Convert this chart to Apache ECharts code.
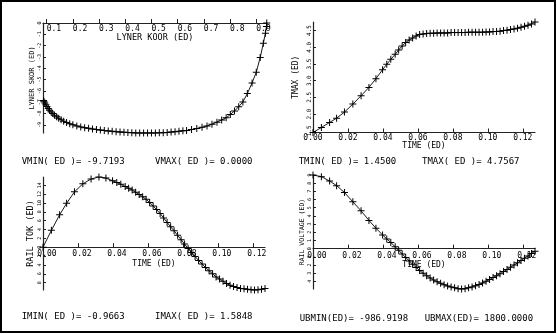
<!DOCTYPE html>
<html><head><meta charset="utf-8">
<script src="https://cdn.jsdelivr.net/npm/echarts@6/dist/echarts.min.js"></script>
<style>html,body{margin:0;padding:0;background:#fff}#c{width:557px;height:334px}</style>
</head><body><div id="c"></div>
<script>
// ---- Panel 1: LYNER KOOR vs LYNER SKOR ----
const koor = [0.940,0.939,0.935,0.927,0.915,0.900,0.884,0.866,0.849,0.833,0.817,0.801,0.785,0.768,0.750,0.731,0.712,0.693,0.673,0.653,0.634,
  0.620,0.605,0.590,0.575,0.560,0.545,0.530,0.515,0.500,0.485,0.470,0.455,0.440,0.425,0.410,0.395,0.380,0.365,0.350,0.335,0.320,0.305,0.290,0.275,0.260,0.245,0.230,0.215,0.200,0.188,0.176,0.165,0.155,0.146,0.138,0.130,0.123,0.117,0.111,0.106,0.101,0.097,0.093,0.090,0.088];
const skor = [0,-0.3,-0.9,-1.8,-3.05,-4.35,-5.3,-6.23,-6.97,-7.4,-7.77,-8.08,-8.38,-8.56,-8.76,-8.94,-9.1,-9.22,-9.33,-9.42,-9.5,
  -9.53,-9.57,-9.61,-9.64,-9.67,-9.69,-9.70,-9.71,-9.7193,-9.7193,-9.72,-9.72,-9.71,-9.69,-9.67,-9.65,-9.63,-9.60,-9.57,-9.54,-9.50,-9.46,-9.42,-9.37,-9.31,-9.25,-9.18,-9.10,-9.00,-8.91,-8.80,-8.68,-8.55,-8.42,-8.29,-8.15,-8.00,-7.86,-7.70,-7.55,-7.38,-7.22,-7.07,-6.95,-6.85];

// ---- Shared time steps for panels 2-4 ----
const time = [0,0.0048,0.0095,0.0135,0.018,0.0228,0.0275,0.032,0.036,0.0398,0.0422,0.0445,
  0.047,0.049,0.051,0.053,0.055,0.057,0.059,0.061,0.063,0.065,0.067,0.069,0.071,0.073,0.075,0.077,0.079,0.081,0.083,0.085,0.087,0.089,0.091,0.093,0.095,0.097,0.099,0.101,0.103,0.105,0.107,0.109,0.111,0.113,0.115,0.117,0.119,0.121,0.123,0.125,0.127];
const tmax = [1.45,1.60,1.75,1.88,2.06,2.30,2.55,2.80,3.06,3.33,3.49,3.64,
  3.79,3.92,4.04,4.14,4.22,4.28,4.34,4.38,4.40,4.41,4.42,4.42,4.43,4.43,4.43,4.43,4.44,4.44,4.44,4.44,4.44,4.45,4.45,4.45,4.45,4.45,4.46,4.46,4.47,4.47,4.48,4.50,4.51,4.53,4.55,4.57,4.60,4.63,4.66,4.70,4.7567];
const railTok = [0,0.38,0.73,0.99,1.25,1.43,1.54,1.5848,1.56,1.50,1.46,1.42,
  1.37,1.33,1.29,1.24,1.19,1.14,1.08,1.01,0.93,0.85,0.76,0.66,0.56,0.46,0.37,0.27,0.17,0.07,-0.03,-0.12,-0.21,-0.30,-0.38,-0.46,-0.53,-0.60,-0.67,-0.72,-0.77,-0.82,-0.86,-0.89,-0.91,-0.93,-0.94,-0.95,-0.96,-0.9663,-0.96,-0.95,-0.93];
const railVoltage = [1800,1760,1653,1540,1373,1144,924,690,499,335,238,150,
  45,-40,-130,-215,-300,-382,-460,-534,-600,-660,-716,-766,-810,-848,-882,-914,-938,-955,-978,-986.92,-978,-955,-935,-906,-875,-840,-800,-755,-708,-660,-612,-562,-510,-456,-402,-348,-290,-236,-180,-120,-62];

// ---- Tick labels ----
const koorTicks = [0.1,0.2,0.3,0.4,0.5,0.6,0.7,0.8,0.9];
const skorTicks = [0,-1,-2,-3,-4,-5,-6,-7,-8,-9];
const timeTicks = [0,0.02,0.04,0.06,0.08,0.10,0.12];
const tmaxTicks = [1.5,2.0,2.5,3.0,3.5,4.0,4.5];
const tokTicks = [-0.8,-0.6,-0.4,-0.2,0,0.2,0.4,0.6,0.8,1.0,1.2,1.4];
const voltTicks = [-800,-600,-400,-200,0,200,400,600,800,1000,1200,1400,1600,1800];

// ---- Texts ----
const axisNames = ['LYNER KOOR (ED)','LYNER SKOR (ED)','TIME (ED)','TMAX (ED)','TIME (ED)','RAIL TOK (ED)','TIME (ED)','RAIL VOLTAGE (ED)'];
const footers = ['VMIN( ED )= -9.7193','VMAX( ED )= 0.0000','TMIN( ED )= 1.4500','TMAX( ED )= 4.7567',
  'IMIN( ED )= -0.9663','IMAX( ED )= 1.5848','UBMIN(ED)= -986.9198','UBMAX(ED)= 1800.0000'];

const FONT = 'DejaVu Sans Mono';
const pair = (xs, ys) => xs.map((x, i) => [x, ys[i]]);
const plus = 'path://M-0.5,-3.5L0.5,-3.5L0.5,-0.5L3.5,-0.5L3.5,0.5L0.5,0.5L0.5,3.5L-0.5,3.5L-0.5,0.5L-3.5,0.5L-3.5,-0.5L-0.5,-0.5Z';

function xAx(idx, o) {
  return Object.assign({
    type: 'value', gridIndex: idx, min: o.min, max: o.max,
    axisLine: {show: true, onZero: false, lineStyle: {color: '#222', width: 1.2}},
    axisTick: {show: true, inside: o.tickInside !== false, length: 4, customValues: o.ticks, lineStyle: {color: '#222'}},
    axisLabel: {show: true, customValues: o.ticks, inside: !!o.labelInside, margin: o.margin, align: o.align || 'center',
      padding: o.pad || 0, fontFamily: FONT, fontSize: 8, color: '#000', formatter: o.fmt, showMinLabel: true, showMaxLabel: true},
    splitLine: {show: false},
    name: o.name || '', nameLocation: 'middle', nameGap: o.nameGap || 0,
    nameTextStyle: {fontFamily: FONT, fontSize: o.nameSize || 8, color: '#000', verticalAlign: 'middle'}
  }, o.extra || {});
}
function yAx(idx, o) {
  return {
    type: 'value', gridIndex: idx, min: o.min, max: o.max,
    axisLine: {show: true, onZero: false, lineStyle: {color: '#222', width: 1.2}},
    axisTick: {show: true, inside: true, length: 3, customValues: o.ticks, lineStyle: {color: '#222'}},
    axisLabel: {show: true, customValues: o.ticks, rotate: 90, margin: o.margin || 1, fontFamily: FONT, fontSize: o.labSize || 5,
      color: '#000', formatter: o.fmt, showMinLabel: true, showMaxLabel: true},
    splitLine: {show: false},
    name: o.name, nameLocation: 'middle', nameGap: o.nameGap, nameRotate: 90,
    nameTextStyle: {fontFamily: FONT, fontSize: o.nameSize || 8, color: '#000', verticalAlign: 'middle'}
  };
}
function ser(idx, data) {
  return {
    type: 'line', xAxisIndex: idx, yAxisIndex: idx, data: data,
    symbol: plus, symbolSize: 7, showAllSymbol: true,
    itemStyle: {color: '#000'}, lineStyle: {color: '#000', width: 0.9},
    animation: false, silent: true
  };
}

const chart = echarts.init(document.getElementById('c'), null, {renderer: 'canvas'});
const footerPos = [[21.7,161.7],[155,161.7],[298.7,161.7],[422,161.7],[21.7,316.7],[155,316.7],[299.7,318.3],[424.7,318.3]];

chart.setOption({
  backgroundColor: '#fff',
  animation: false,
  grid: [
    {left: 43, top: 23, width: 224, height: 110},
    {left: 313, top: 22, width: 222, height: 110.5},
    {left: 43, top: 177, width: 222, height: 113},
    {left: 313, top: 175, width: 222, height: 114}
  ],
  xAxis: [
    xAx(0, {min: 0.086, max: 0.941, ticks: koorTicks, tickInside: false, labelInside: true, margin: 2, align: 'left',
      fmt: v => v.toFixed(1), extra: {position: 'top'}}),
    xAx(1, {min: 0, max: 0.127, ticks: timeTicks, margin: 1, fmt: v => v.toFixed(2), name: axisNames[2], nameGap: 13}),
    xAx(2, {min: 0, max: 0.127, ticks: timeTicks, margin: 3, pad: [0,0,0,8], fmt: v => v.toFixed(2), name: axisNames[4], nameGap: 17,
      extra: {position: 'bottom', offset: -42.8}}),
    xAx(3, {min: 0, max: 0.127, ticks: timeTicks, margin: 3, pad: [0,0,0,8], fmt: v => v.toFixed(2), name: axisNames[6], nameGap: 16,
      extra: {position: 'bottom', offset: -40.4}})
  ],
  yAxis: [
    yAx(0, {min: -9.7193, max: 0, ticks: skorTicks, fmt: v => String(v), name: axisNames[1], nameGap: 9, nameSize: 7}),
    yAx(1, {min: 1.45, max: 4.7567, ticks: tmaxTicks, fmt: v => v.toFixed(1), labSize: 6, name: axisNames[3], nameGap: 17, nameSize: 8}),
    yAx(2, {min: -0.9663, max: 1.5848, ticks: tokTicks, fmt: v => String(Math.round(Math.abs(v)*10)), name: axisNames[5], nameGap: 12.5, nameSize: 8.5}),
    yAx(3, {min: -986.9198, max: 1800, ticks: voltTicks, fmt: v => String(Math.round(Math.abs(v)/200)), name: axisNames[7], nameGap: 9, nameSize: 6.5})
  ],
  series: [
    ser(0, pair(koor, skor)),
    ser(1, pair(time, tmax)),
    ser(2, pair(time, railTok)),
    ser(3, pair(time, railVoltage))
  ],
  graphic: [
    {type: 'rect', shape: {x: 1, y: 1, width: 554, height: 331}, style: {fill: null, stroke: '#000', lineWidth: 2}, silent: true},
    {type: 'text', x: 155, y: 38, silent: true,
      style: {text: axisNames[0], font: '8.5px "DejaVu Sans Mono"', fill: '#000', verticalAlign: 'middle', align: 'center'}}
  ].concat(footers.map((t, i) => ({
    type: 'text', x: footerPos[i][0], y: footerPos[i][1], silent: true,
    style: {text: t, font: '9px "DejaVu Sans Mono"', fill: '#000', verticalAlign: 'middle', align: 'left'}
  })))
});
</script></body></html>
